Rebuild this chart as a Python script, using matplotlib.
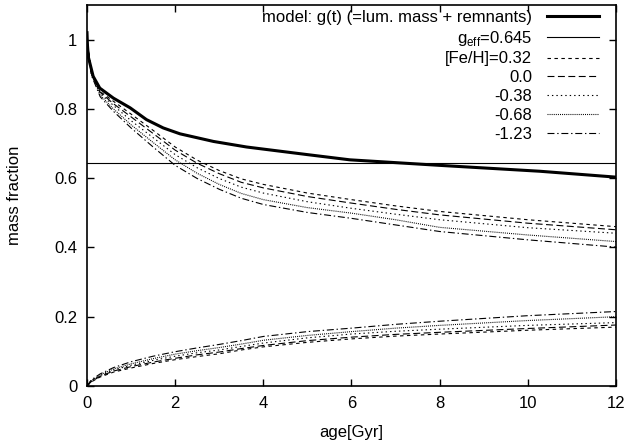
import matplotlib
matplotlib.use("Agg")
import matplotlib.pyplot as plt
import numpy as np

# age grid [Gyr]
AGE = [0.0, 0.1, 0.3, 0.6, 1.0, 1.5, 2.0, 2.5, 3.0, 3.5, 4.0, 5.0, 6.0, 7.0, 8.0, 10.0, 12.0]

# model g(t) = luminous mass + remnants
MODEL_AGE = [0.0, 0.01, 0.03, 0.14, 0.29, 0.6, 0.98, 1.35, 1.73, 2.11, 2.87, 3.62, 5.0, 5.96, 8.0, 10.27, 12.0]
MODEL_G = [1.02, 0.985, 0.95, 0.894, 0.860, 0.831, 0.803, 0.769, 0.745, 0.728, 0.706, 0.690, 0.668, 0.653, 0.637, 0.620, 0.603]

G_EFF = 0.645

FEH_LABELS = ["[Fe/H]=0.32", "0.0", "-0.38", "-0.68", "-1.23"]

# luminous mass fraction per metallicity
LUM_032 = [1.0, 0.905, 0.850, 0.822, 0.785, 0.738, 0.690, 0.652, 0.622, 0.598, 0.582, 0.557, 0.538, 0.520, 0.504, 0.480, 0.460]
LUM_000 = [1.0, 0.905, 0.848, 0.815, 0.777, 0.729, 0.681, 0.643, 0.613, 0.588, 0.572, 0.547, 0.528, 0.510, 0.494, 0.470, 0.451]
LUM_M038 = [1.0, 0.902, 0.845, 0.810, 0.766, 0.717, 0.668, 0.630, 0.599, 0.574, 0.557, 0.532, 0.513, 0.496, 0.480, 0.457, 0.441]
LUM_M068 = [1.0, 0.900, 0.840, 0.800, 0.754, 0.703, 0.653, 0.614, 0.582, 0.556, 0.538, 0.515, 0.499, 0.480, 0.458, 0.436, 0.417]
LUM_M123 = [1.0, 0.897, 0.835, 0.793, 0.745, 0.690, 0.637, 0.599, 0.568, 0.542, 0.524, 0.501, 0.484, 0.465, 0.446, 0.422, 0.401]

# remnant mass fraction per metallicity
REM_032 = [0.0, 0.012, 0.026, 0.040, 0.052, 0.065, 0.076, 0.085, 0.093, 0.104, 0.113, 0.126, 0.136, 0.144, 0.150, 0.161, 0.170]
REM_000 = [0.0, 0.013, 0.028, 0.043, 0.056, 0.069, 0.080, 0.090, 0.098, 0.108, 0.117, 0.131, 0.141, 0.149, 0.155, 0.166, 0.176]
REM_M038 = [0.0, 0.015, 0.030, 0.046, 0.060, 0.074, 0.086, 0.096, 0.104, 0.114, 0.124, 0.139, 0.150, 0.158, 0.164, 0.175, 0.183]
REM_M068 = [0.0, 0.016, 0.032, 0.049, 0.064, 0.079, 0.092, 0.102, 0.111, 0.121, 0.132, 0.146, 0.157, 0.167, 0.175, 0.189, 0.200]
REM_M123 = [0.0, 0.018, 0.035, 0.053, 0.070, 0.086, 0.099, 0.110, 0.120, 0.131, 0.143, 0.157, 0.167, 0.178, 0.187, 0.203, 0.215]

LUM = [LUM_032, LUM_000, LUM_M038, LUM_M068, LUM_M123]
REM = [REM_032, REM_000, REM_M038, REM_M068, REM_M123]

DASHES = [(2.5, 2.5), (5, 2.5), (1, 2.2), (0.7, 0.8), (5, 2, 1, 2)]

plt.rcParams["font.family"] = ["Liberation Sans", "DejaVu Sans"]
plt.rcParams["font.size"] = 12
plt.rcParams["lines.scale_dashes"] = False

fig = plt.figure(figsize=(6.29, 4.45), dpi=100)
ax = fig.add_axes([0.1383, 0.1326, 0.9793 - 0.1383, 0.9888 - 0.1326])

ax.plot(MODEL_AGE, MODEL_G, color="black", linewidth=2.2,
        label="model: g(t) (=lum. mass + remnants)")
ax.axhline(G_EFF, color="black", linewidth=0.8, label="g$_\\mathregular{eff}$=0.645")

for label, lum, rem, dash in zip(FEH_LABELS, LUM, REM, DASHES):
    ax.plot(AGE, lum, color="black", linewidth=0.8, dashes=dash, label=label)
    ax.plot(AGE, rem, color="black", linewidth=0.8, dashes=dash)

ax.set_xlim(0, 12)
ax.set_ylim(0, 1.1)
ax.set_xticks(np.arange(0, 13, 2))
ax.set_yticks([0, 0.2, 0.4, 0.6, 0.8, 1.0])
ax.set_yticklabels(["0", "0.2", "0.4", "0.6", "0.8", "1"])
ax.tick_params(direction="in", length=5, width=1, top=True, right=True, labelsize=12, pad=7)
for spine in ax.spines.values():
    spine.set_linewidth(1.2)

ax.set_xlabel("age[Gyr]", labelpad=10)
ax.set_ylabel("mass fraction", labelpad=23)

ax.legend(loc="upper right", frameon=False, markerfirst=False, handlelength=3.1,
          labelspacing=0.23, handletextpad=0.9, borderaxespad=0.0,
          bbox_to_anchor=(0.98, 1.005))

fig.savefig("out.png", dpi=100)
